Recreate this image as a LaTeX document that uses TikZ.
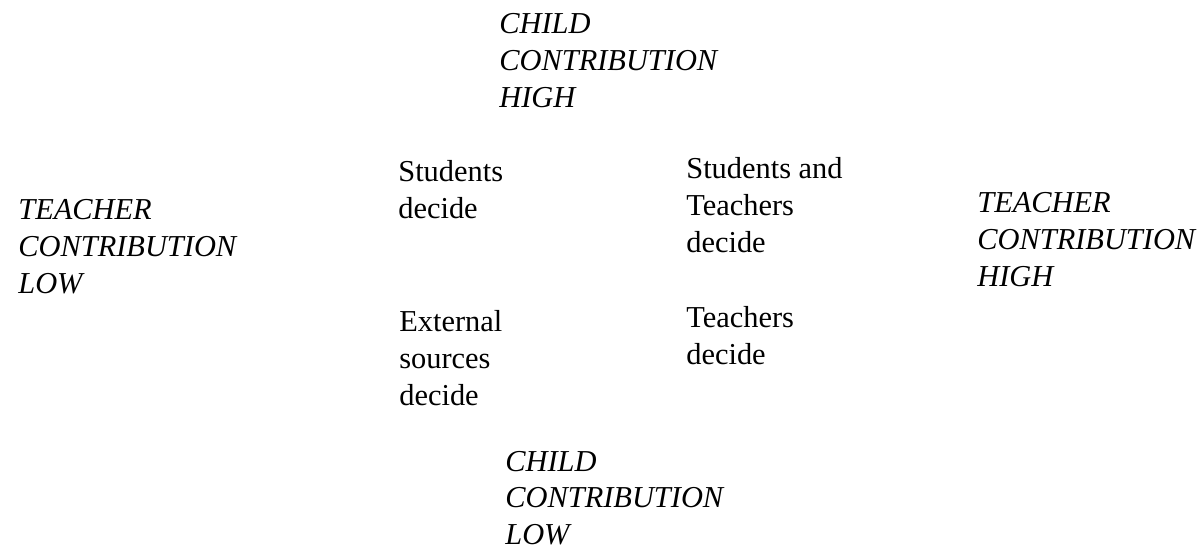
\documentclass[tikz,border=0pt]{standalone}
\usepackage{fontspec}
\setmainfont{Liberation Serif}
\newcommand\stackL[1]{\begin{tabular}[t]{@{}l@{}}#1\end{tabular}}
\begin{document}
\begin{tikzpicture}[x=0.2mm,y=-0.2mm,
  lbl/.style={anchor=base west,inner sep=0pt,font=\fontsize{17.3}{20.8}\selectfont},
  axis/.style={lbl,font=\fontsize{17.3}{20.8}\selectfont\itshape}]
\useasboundingbox (0,0) rectangle (1201,551);
\node[axis] (childhigh) at (499,34) {\stackL{CHILD\\CONTRIBUTION\\HIGH}};
\node[lbl] (students) at (398,182) {\stackL{Students\\decide}};
\node[lbl] (both) at (686,179) {\stackL{Students and\\Teachers\\decide}};
\node[axis] (teachlow) at (18,220) {\stackL{TEACHER\\CONTRIBUTION\\LOW}};
\node[axis] (teachhigh) at (977,213) {\stackL{TEACHER\\CONTRIBUTION\\HIGH}};
\node[lbl] (external) at (399,332) {\stackL{External\\sources\\decide}};
\node[lbl] (teachers) at (686,328) {\stackL{Teachers\\decide}};
\node[axis] (childlow) at (505,471) {\stackL{CHILD\\CONTRIBUTION\\LOW}};
\end{tikzpicture}
\end{document}
